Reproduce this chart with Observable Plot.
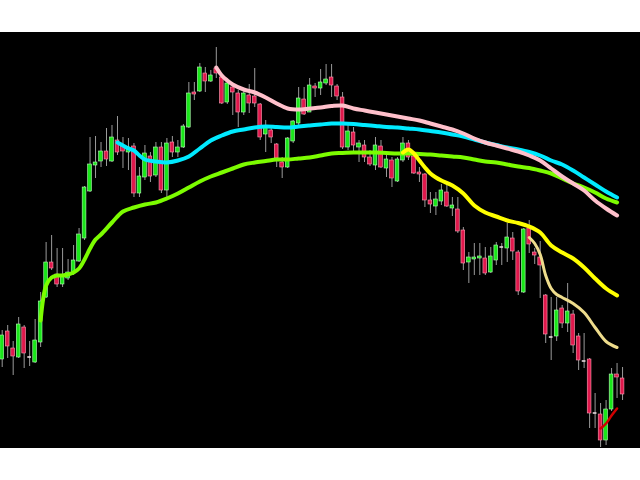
<!DOCTYPE html>
<html><head><meta charset="utf-8">
<script src="https://cdn.jsdelivr.net/npm/d3@7"></script>
<script src="https://cdn.jsdelivr.net/npm/@observablehq/plot@0.6"></script>
<style>
html,body{margin:0;padding:0;background:#fff;}
#chart{position:absolute;left:0;top:32px;width:640px;height:416px;}
</style></head><body><div id="chart"></div>
<script>
const open = [89,117,100,91,121,91,86,106,151,186,
174,164,170,175,187,210,257,283,287,297,
287,308,302,296,302,255,271,292,273,301,
258,306,296,301,321,356,357,375,367,380,
371,346,361,355,336,353,352,344,314,318,
304,286,281,307,325,349,336,362,360,365,
371,362,351,301,316,301,303,291,283,302,
280,288,267,288,305,292,276,274,248,242,
247,256,240,239,218,186,189,190,190,176,
188,201,200,210,196,156,220,196,191,153,
111,112,140,125,134,112,87,89,35,34,
8,39,74,70];
const high = [118,123,107,131,123,107,129,156,206,213,
200,200,189,203,220,262,311,312,306,320,
323,332,311,310,305,281,303,296,306,306,
310,312,308,324,366,366,385,381,378,401,
373,368,365,358,358,364,380,345,328,323,
305,291,311,328,361,361,370,365,379,384,
384,364,356,323,321,308,308,298,311,308,
293,291,291,311,308,293,281,275,256,256,
264,264,251,251,221,196,205,205,201,201,
206,205,225,216,198,220,228,200,207,154,
151,151,143,165,138,115,115,90,55,45,
48,80,85,81];
const low = [81,90,73,90,80,82,85,101,150,178,
161,161,168,173,186,208,256,270,281,282,
286,293,280,278,251,251,268,266,271,255,
251,291,291,300,320,348,356,356,366,370,
344,344,333,321,333,335,341,308,296,305,
281,270,280,305,323,333,336,351,353,363,
351,348,299,298,295,286,286,282,278,280,
271,261,266,286,288,274,266,241,235,233,
243,241,232,215,178,165,173,173,173,175,
183,183,186,188,153,155,195,184,150,105,
88,107,120,116,95,78,80,20,20,1,
3,37,50,48];
const close = [113,102,92,124,95,91,108,147,186,180,
164,172,176,188,214,261,284,286,297,289,
311,296,297,301,255,272,295,272,301,258,
305,296,301,322,355,354,381,367,373,375,
345,365,356,336,355,345,345,311,321,311,
290,281,310,327,350,334,363,360,366,369,
363,352,301,317,303,305,291,284,303,281,
289,270,289,305,291,275,274,248,244,249,
258,242,243,217,185,191,191,192,175,192,
203,201,211,197,157,219,204,193,183,114,
110,138,125,137,103,88,87,35,35,8,
39,74,71,54];

const greenIdx = [7,8,9,10,11,12,13,14,15,16,17,18,20,22,24,26,28,30,32,34,36,38,40,42,44,46,48,50,52,54,56,58,60,62,64,66,68,70,72,74,76,78,80,82,84,86,88,90,92,94,96,98,100,102,104,106,108,110,112];
const greenVal = [128,163,171,173,173,174,176,180,189,200,209,214,226,237,241,244,246,250,255,261,267,272,276,280,284,286,287.5,289,289,290,291,293,295,295.5,296,296,296,295.5,295,295,294.5,294,293,292,291,289,287,286,284,282,280.5,278,275,270,265,261,256,250,246];

const cyanIdx = [21,22,23,24,25,26,28,30,32,34,36,38,40,42,44,46,48,50,52,54,56,58,60,62,64,66,68,70,72,74,76,78,80,82,84,86,88,90,92,94,96,98,100,102,104,106,108,110,112];
const cyanVal = [306,303,300,298,293,289,287,286,288,292,300,308,313,317,319,321,322,321.5,321,322,323,324,325,325,324.5,323.5,322.5,321.5,321,320,319,317.5,316,314,312,309,306,303.5,301,299,296.5,293,288,284,278,271,264,257,251];

const pinkIdx = [39,40,41,42,44,46,48,50,52,54,56,58,60,62,64,66,68,70,72,74,76,78,80,82,84,86,88,90,92,94,96,98,100,102,104,106,108,110,112];
const pinkVal = [381,373,368,364,359,356,351,345,340,339,340,341,342.5,343,340,338,336,334,332,330,328,325,322,319,315,310,306,303,300,297,293,288,280,272,265,258,248,240,233];

const yellowIdx = [73,74,75,76,77,78,79,80,82,84,86,88,90,92,94,96,98,100,102,104,106,108,110,112];
const yellowVal = [296,299,295,288,281,275,271,268,263,255,243,236,232,228,225.5,222,216,203,196,190,181,170,160,153];

const khakiIdx = [96,97,98,99,100,101,102,104,106,108,110,112];
const khakiVal = [211,205,194,173,160,154,151,145,136,121,107,101];

const redIdx = [109,110,111,112];
const redVal = [20,25,33,40];

const candles = open.map((o, i) => ({i, open: o, high: high[i], low: low[i], close: close[i]}));
const series = (idx, val) => idx.map((x, k) => ({i: x, v: val[k]}));
const lines = [
  {data: series(greenIdx, greenVal), color: "#7cfc00", w: 4},
  {data: series(cyanIdx, cyanVal), color: "#00eaff", w: 4},
  {data: series(pinkIdx, pinkVal), color: "#ffc0cb", w: 4},
  {data: series(yellowIdx, yellowVal), color: "#ffff00", w: 4},
  {data: series(khakiIdx, khakiVal), color: "#eedc8c", w: 3},
  {data: series(redIdx, redVal), color: "#d00000", w: 2.5}
];
const up = d => d.close > d.open;
const flat = d => Math.abs(d.close - d.open) < 1.5;

const chart = Plot.plot({
  width: 640, height: 416, margin: 0,
  style: {background: "#000"},
  x: {domain: [-0.31, 116.27], axis: null},
  y: {domain: [0, 416], axis: null},
  marks: [
    Plot.ruleX(candles, {x: "i", y1: "low", y2: "high", stroke: "#9a9a9a", strokeWidth: 1}),
    Plot.rect(candles.filter(d => !flat(d)), {
      x1: d => d.i - 0.34, x2: d => d.i + 0.34, y1: "open", y2: "close",
      fill: d => up(d) ? "#19e619" : "#e0184c",
      stroke: d => up(d) ? "#b8ffb8" : "#ff9fb4", strokeWidth: 0.6
    }),
    Plot.rect(candles.filter(flat), {
      x1: d => d.i - 0.34, x2: d => d.i + 0.34,
      y1: d => d.open - 0.8, y2: d => d.open + 0.8, fill: "#e8d8dc"
    }),
    ...lines.map(l => Plot.line(l.data, {x: "i", y: "v", stroke: l.color, strokeWidth: l.w, curve: "catmull-rom"}))
  ]
});
document.getElementById("chart").append(chart);
</script>
</body></html>
